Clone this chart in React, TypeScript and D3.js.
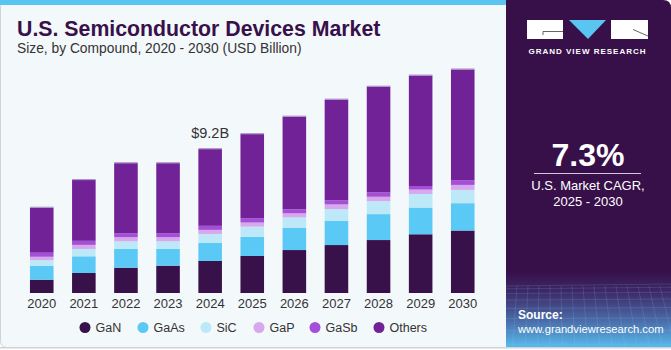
import React from 'react';
import * as d3 from 'd3';

const YEARS = ["2020", "2021", "2022", "2023", "2024", "2025", "2026", "2027", "2028", "2029", "2030"];
const SEGMENTS = ["GaN", "GaAs", "SiC", "GaP", "GaSb", "Others"];
const COLORS = ["#38104a", "#5bc9f5", "#bde8f8", "#d8a8ec", "#a54fd8", "#722297"];

// USD billion
const GAN = [0.85, 1.28, 1.62, 1.75, 2.05, 2.37, 2.75, 3.07, 3.39, 3.76, 4.0];
const GAAS = [0.88, 1.07, 1.2, 1.07, 1.15, 1.22, 1.41, 1.56, 1.66, 1.71, 1.75];
const SIC = [0.38, 0.47, 0.49, 0.49, 0.58, 0.66, 0.68, 0.74, 0.83, 0.87, 0.85];
const GAP = [0.21, 0.26, 0.26, 0.26, 0.26, 0.26, 0.26, 0.3, 0.28, 0.28, 0.32];
const GASB = [0.26, 0.26, 0.26, 0.26, 0.26, 0.28, 0.26, 0.26, 0.28, 0.23, 0.3];
const OTHERS = [2.88, 3.89, 4.48, 4.48, 4.91, 5.38, 5.93, 6.45, 6.77, 7.07, 7.09];

const LABEL_YEAR = "2024";
const LABEL_TEXT = "$9.2B";

const W = 671;
const H = 350;
const FONT = "'Liberation Sans', Arial, sans-serif";

export default function App() {
    const rows = YEARS.map((year, i) => ({
        year,
        GaN: GAN[i],
        GaAs: GAAS[i],
        SiC: SIC[i],
        GaP: GAP[i],
        GaSb: GASB[i],
        Others: OTHERS[i],
    }));

    const stacked = d3.stack().keys(SEGMENTS)(rows as any);

    const x = d3.scaleBand()
        .domain(YEARS)
        .range([20.7, 483.8])
        .paddingInner(0.44)
        .paddingOuter(0.22);

    const y = d3.scaleLinear()
        .domain([0, 15])
        .range([293, 293 - 15 * 15.62]);

    const color = d3.scaleOrdinal<string, string>().domain(SEGMENTS).range(COLORS);

    const legendX = [85, 143, 206, 259, 315, 379];

    const labelIdx = YEARS.indexOf(LABEL_YEAR);
    const labelTop = stacked[stacked.length - 1][labelIdx][1];

    return (
        <>
            <style>{`body{margin:0}`}</style>
            <svg width={W} height={H} style={{ display: "block", fontFamily: FONT }}>
                <defs>
                    <linearGradient id="panelGrad" x1="0" y1="0" x2="0" y2="1">
                        <stop offset="0" stopColor="#37104a" />
                        <stop offset="0.78" stopColor="#37104a" />
                        <stop offset="0.84" stopColor="#3d2a68" />
                        <stop offset="0.92" stopColor="#4a6aa8" />
                        <stop offset="1" stopColor="#57bdee" />
                    </linearGradient>
                    <clipPath id="panelClip">
                        <path d="M506,0 H663 Q671,0 671,8 V348 H506 Z" />
                    </clipPath>
                </defs>

                {/* left panel */}
                <rect x={0.5} y={0.5} width={520} height={347} rx={6} fill="#f3f8fb" stroke="#cfd3d6" />
                <rect x={0} y={0} width={506} height={5} fill="#5bc5f2" />

                <text x={17} y={36} fontSize={21.3} fontWeight={700} fill="#38104a">
                    U.S. Semiconductor Devices Market
                </text>
                <text x={17} y={53} fontSize={13.8} fill="#333">
                    Size, by Compound, 2020 - 2030 (USD Billion)
                </text>

                {/* bars */}
                {stacked.map((series) => (
                    <g key={series.key} fill={color(series.key)}>
                        {series.map((d: any) => (
                            <rect
                                key={d.data.year}
                                x={x(d.data.year)}
                                y={y(d[1])}
                                width={x.bandwidth()}
                                height={y(d[0]) - y(d[1])}
                            />
                        ))}
                    </g>
                ))}
                {stacked[stacked.length - 1].map((d: any) => (
                    <rect
                        key={"top" + d.data.year}
                        x={x(d.data.year)}
                        y={y(d[1]) - 1}
                        width={x.bandwidth()}
                        height={1}
                        fill="#a98cc8"
                    />
                ))}

                <text
                    x={(x(LABEL_YEAR) as number) + x.bandwidth() / 2}
                    y={y(labelTop) - 11}
                    textAnchor="middle"
                    fontSize={14.5}
                    fill="#333"
                >
                    {LABEL_TEXT}
                </text>

                {YEARS.map((yr) => (
                    <text
                        key={yr}
                        x={(x(yr) as number) + x.bandwidth() / 2}
                        y={308}
                        textAnchor="middle"
                        fontSize={13}
                        fill="#333"
                    >
                        {yr}
                    </text>
                ))}

                {SEGMENTS.map((s, i) => (
                    <g key={s}>
                        <circle cx={legendX[i]} cy={327.5} r={5.5} fill={color(s)} />
                        <text x={legendX[i] + 10.5} y={332} fontSize={12.5} fill="#333">{s}</text>
                    </g>
                ))}

                {/* right panel */}
                <g clipPath="url(#panelClip)">
                    <rect x={506} y={0} width={165} height={348} fill="url(#panelGrad)" />
                    <g stroke="#9fd0f0" strokeOpacity={0.22} strokeWidth={0.7}>
                        {d3.range(0, 9).map((i) => (
                            <line key={"h" + i} x1={506} x2={671} y1={286 + i * i * 0.9 + i * 2} y2={284 + i * i * 0.9 + i * 2.3} />
                        ))}
                        {d3.range(0, 16).map((i) => (
                            <line key={"v" + i} x1={506 + i * 11} x2={500 + i * 12.5} y1={286} y2={348} />
                        ))}
                    </g>
                </g>
                <rect x={0} y={347} width={671} height={1.5} fill="#cfd3d6" />

                {/* logo */}
                <rect x={527} y={20} width={36} height={19} fill="#fff" />
                <path d="M543,35 V31.5 H563" fill="none" stroke="#555" strokeWidth={0.9} />
                <path d="M569,20 H606 L588,39 Z" fill="#5bc5f2" />
                <rect x={611} y={20} width={37} height={19} fill="#fff" />
                <path d="M633,29.5 L648,36" fill="none" stroke="#555" strokeWidth={0.9} />
                <text x={587.5} y={54} textAnchor="middle" fontSize={8} fontWeight={700} fill="#fff" letterSpacing={1}>
                    GRAND VIEW RESEARCH
                </text>

                <text x={588} y={166} textAnchor="middle" fontSize={32} fontWeight={700} fill="#fff">7.3%</text>
                <line x1={534} x2={641} y1={173.5} y2={173.5} stroke="#cfc6d6" strokeWidth={1} />
                <text x={588} y={190} textAnchor="middle" fontSize={13} fill="#fff">U.S. Market CAGR,</text>
                <text x={588} y={206} textAnchor="middle" fontSize={13} fill="#fff">2025 - 2030</text>

                <text x={518} y={319} fontSize={12} fontWeight={700} fill="#fff">Source:</text>
                <text x={518} y={333} fontSize={11.2} fill="#fff">www.grandviewresearch.com</text>
            </svg>
        </>
    );
}
